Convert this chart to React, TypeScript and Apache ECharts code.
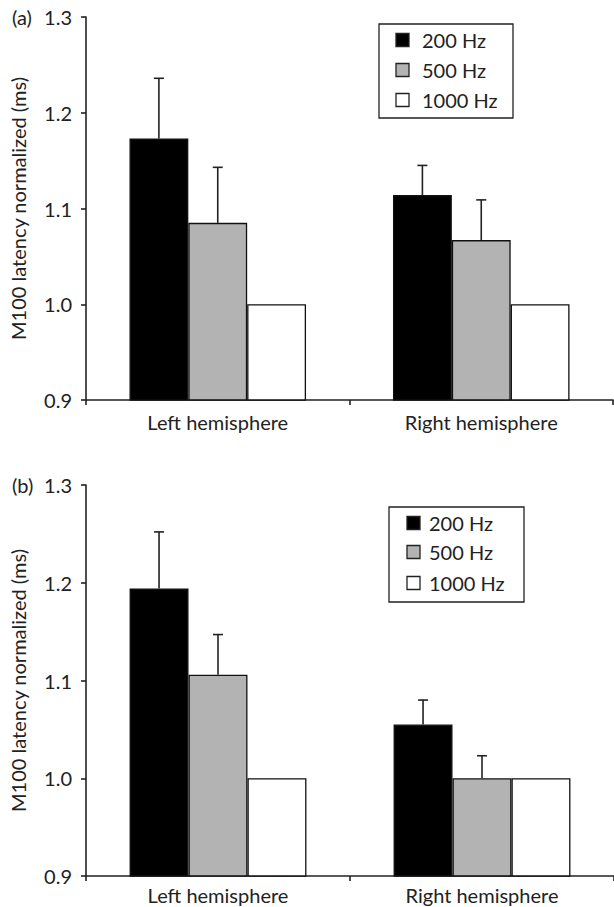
import React, { useEffect, useRef } from "react";
import * as echarts from "echarts";

const categories = ["Left hemisphere", "Right hemisphere"];
const seriesNames = ["200 Hz", "500 Hz", "1000 Hz"];
const seriesColors = ["#000000", "#b3b3b3", "#ffffff"];
const yTicks = [0.9, 1.0, 1.1, 1.2, 1.3];

// Panel (a)
const a200 = [1.173, 1.114];
const a500 = [1.085, 1.067];
const a1000 = [1.0, 1.0];
const a200Err = [0.063, 0.031];
const a500Err = [0.058, 0.042];

// Panel (b)
const b200 = [1.194, 1.055];
const b500 = [1.106, 1.0];
const b1000 = [1.0, 1.0];
const b200Err = [0.058, 0.025];
const b500Err = [0.041, 0.023];

const FONT = "Lato";
const GAP = 0.33;

export default function App() {
  const ref = useRef<HTMLDivElement>(null);
  useEffect(() => {
    const chart = echarts.init(ref.current!, null, { renderer: "svg" });
    const panels = [
      { vals: [a200, a500, a1000], errs: [a200Err, a500Err], label: "(a)" },
      { vals: [b200, b500, b1000], errs: [b200Err, b500Err], label: "(b)" },
    ];
    const grids = [
      { left: 86, top: 17, width: 527, height: 383 },
      { left: 86, top: 485, width: 537, height: 391 },
    ];
    const labelMargins = [12, 9];
    const legendBoxes = [
      { x: 379, y: 24, w: 134, h: 94, mx: 396, tx: 422, rows: [40, 70, 100] },
      { x: 389, y: 507, w: 135, h: 95, mx: 407, tx: 429, rows: [523, 552, 583] },
    ];
    const axisLine = { show: true, lineStyle: { color: "#222", width: 1.6 } };
    const xAxes = grids.map((_, i) => ({
      type: "category",
      gridIndex: i,
      data: categories,
      axisLine,
      axisTick: { show: true, length: 5, lineStyle: { color: "#222", width: 1.6 } },
      axisLabel: { color: "#222", fontSize: 20, fontFamily: FONT, margin: labelMargins[i] },
    }));
    const yAxes = grids.map((_, i) => ({
      type: "value",
      gridIndex: i,
      min: yTicks[0],
      max: yTicks[yTicks.length - 1],
      interval: 0.1,
      splitLine: { show: false },
      axisLine,
      axisTick: { show: true, length: 5, lineStyle: { color: "#222", width: 1.6 } },
      axisLabel: {
        color: "#222",
        fontSize: 20,
        fontFamily: FONT,
        margin: 14,
        formatter: (v: number) => v.toFixed(1),
      },
      name: "M100 latency normalized (ms)",
      nameLocation: "middle",
      nameGap: 58,
      nameTextStyle: { color: "#222", fontSize: 20, fontFamily: FONT },
    }));
    const series: any[] = [];
    panels.forEach((p, pi) => {
      seriesNames.forEach((name, si) => {
        series.push({
          type: "bar",
          name,
          xAxisIndex: pi,
          yAxisIndex: pi,
          data: p.vals[si],
          barGap: "0%",
          barCategoryGap: "33%",
          itemStyle: { color: seriesColors[si], borderColor: "#111", borderWidth: 1.3 },
        });
      });
      const errData: number[][] = [];
      p.errs.forEach((errArr, si) => {
        errArr.forEach((e, ci) => {
          errData.push([ci, p.vals[si][ci], e, si]);
        });
      });
      series.push({
        type: "custom",
        xAxisIndex: pi,
        yAxisIndex: pi,
        z: 5,
        data: errData,
        renderItem: (params: any, api: any) => {
          const ci = api.value(0);
          const v = api.value(1);
          const e = api.value(2);
          const si = api.value(3);
          const base = api.coord([ci, v]);
          const top = api.coord([ci, v + e]);
          const catW = api.size([1, 0])[0];
          const bw = (catW * (1 - GAP)) / 3;
          const x = base[0] + (si - 1) * bw;
          const st = { stroke: "#222", lineWidth: 1.6 };
          return {
            type: "group",
            children: [
              { type: "line", shape: { x1: x, y1: base[1], x2: x, y2: top[1] }, style: st },
              { type: "line", shape: { x1: x - 5, y1: top[1], x2: x + 5, y2: top[1] }, style: st },
            ],
          };
        },
      });
    });
    const graphic: any[] = [];
    panels.forEach((p, pi) => {
      graphic.push({
        type: "text",
        x: 12,
        y: grids[pi].top,
        style: {
          text: p.label,
          fontSize: 20,
          fontFamily: FONT,
          fill: "#222",
          verticalAlign: "middle",
          textVerticalAlign: "middle",
        },
      });
      const lb = legendBoxes[pi];
      graphic.push({
        type: "rect",
        shape: { x: lb.x, y: lb.y, width: lb.w, height: lb.h },
        style: { fill: "#fff", stroke: "#222", lineWidth: 1.3 },
        z: 10,
      });
      seriesNames.forEach((name, si) => {
        graphic.push({
          type: "rect",
          shape: { x: lb.mx, y: lb.rows[si] - 6.5, width: 13, height: 13 },
          style: { fill: seriesColors[si], stroke: "#222", lineWidth: 1.3 },
          z: 11,
        });
        graphic.push({
          type: "text",
          x: lb.tx,
          y: lb.rows[si],
          style: {
            text: name,
            fontSize: 20,
            fontFamily: FONT,
            fill: "#222",
            textVerticalAlign: "middle",
            verticalAlign: "middle",
          },
          z: 11,
        });
      });
    });
    chart.setOption({
      animation: false,
      backgroundColor: "#fff",
      grid: grids,
      xAxis: xAxes,
      yAxis: yAxes,
      series,
      graphic,
    });
    return () => chart.dispose();
  }, []);
  return (
    <div
      ref={ref}
      style={{ position: "absolute", left: 0, top: 0, width: 614, height: 907 }}
    />
  );
}
